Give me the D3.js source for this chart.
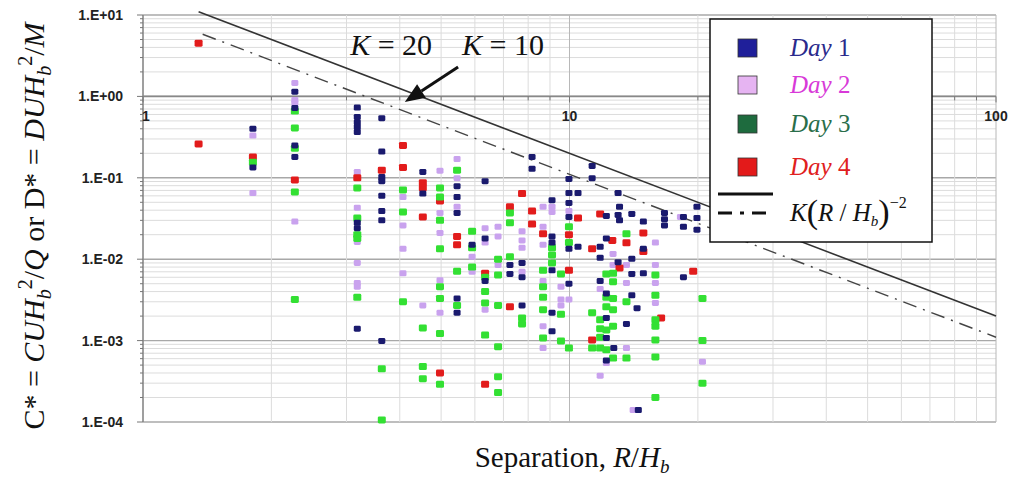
<!DOCTYPE html>
<html><head><meta charset="utf-8">
<script src="https://cdn.jsdelivr.net/npm/d3@7"></script>
<style>
html,body{margin:0;padding:0;background:#fff;}
svg{display:block;}
</style></head>
<body>
<svg id="c" width="1009" height="491"></svg>
<script>
// ---------- DATA ----------
const day1 = [[1.81,0.40],[1.81,0.134],
[2.27,1.14],[2.27,0.72],[2.27,0.25],[2.27,0.18],
[3.18,0.73],[3.18,0.56],[3.18,0.48],[3.18,0.42],[3.18,0.365],[3.18,0.028],[3.18,0.024],[3.18,0.0014],
[3.63,0.54],[3.63,0.21],[3.63,0.102],[3.63,0.091],[3.63,0.060],[3.63,0.039],[3.63,0.030],[3.63,0.00099],
[4.53,0.118],[4.53,0.064],
[5.45,0.079],[5.45,0.058],[5.45,0.037],[5.45,0.0033],[5.45,0.0022],
[5.91,0.015],
[6.34,0.091],[6.34,0.018],[6.34,0.0054],
[7.25,0.0085],[7.25,0.0066],
[7.74,0.0090],[7.74,0.0060],[7.74,0.0027],
[8.17,0.18],[8.17,0.129],
[9.10,0.053],[9.10,0.019],[9.10,0.016],[9.10,0.0073],[9.10,0.0022],[9.10,0.0013],
[9.97,0.097],[9.97,0.065],[9.97,0.049],[9.97,0.033],[9.97,0.0134],[9.97,0.0050],
[10.47,0.065],[10.47,0.0142],
[11.3,0.14],[11.3,0.099],
[11.8,0.0142],[11.8,0.0104],[11.8,0.0054],
[12.2,0.034],[12.2,0.018],[12.2,0.0038],[12.2,0.0019],[12.2,0.00108],[12.2,0.00057],
[12.7,0.00081],
[13.0,0.065],[13.0,0.035],[13.0,0.0092],
[13.1,0.044],[13.1,0.030],
[13.6,0.0016],
[14.0,0.036],[14.0,0.0101],[14.0,0.0066],[14.0,0.0036],
[14.4,0.0025],[14.5,0.00014],
[14.9,0.029],[14.9,0.0134],[14.9,0.0067],
[16.7,0.037],[16.7,0.031],[16.7,0.026],
[18.5,0.033],[18.5,0.025],[18.5,0.0060],
[19.9,0.044],[19.9,0.032],[19.9,0.023]];

const day2 = [[1.81,0.33],[1.81,0.065],
[2.27,1.46],[2.27,0.90],[2.27,0.83],[2.27,0.029],
[3.18,0.118],[3.18,0.043],[3.18,0.0163],[3.18,0.0090],[3.18,0.0051],[3.18,0.0046],
[4.07,0.058],[4.07,0.026],[4.07,0.0134],[4.07,0.0067],
[4.53,0.0027],
[4.97,0.122],[4.97,0.037],[4.97,0.021],[4.97,0.0055],[4.97,0.0022],
[5.45,0.17],[5.45,0.099],[5.45,0.044],
[5.91,0.0107],[5.91,0.0070],
[6.34,0.024],[6.34,0.016],[6.34,0.0024],
[6.80,0.025],[6.80,0.019],[6.80,0.0085],
[7.74,0.022],[7.74,0.017],[7.74,0.0138],[7.74,0.0070],
[8.67,0.044],[8.67,0.025],[8.67,0.015],[8.67,0.0054],[8.67,0.0015],[8.67,0.00081],
[9.10,0.044],[9.10,0.038],
[9.55,0.0046],[9.55,0.0032],[9.55,0.0027],
[9.97,0.039],[9.97,0.0032],
[11.8,0.0043],[11.8,0.00037],
[12.2,0.00053],
[12.65,0.0116],[12.65,0.0085],
[13.6,0.0085],[13.6,0.0051],[13.6,0.00081],
[14.1,0.00014],
[15.9,0.016],[15.9,0.0085],[15.9,0.0051],[15.9,0.0029],
[18.2,0.033],
[20.5,0.00055]];

const day3 = [[1.81,0.155],
[2.27,0.66],[2.27,0.41],[2.27,0.23],[2.27,0.067],[2.27,0.0032],
[3.18,0.075],[3.18,0.032],[3.18,0.020],[3.18,0.018],[3.18,0.0034],
[3.63,0.00045],[3.63,0.000106],
[4.07,0.071],[4.07,0.038],[4.07,0.0030],
[4.53,0.00143],[4.53,0.00048],[4.53,0.00034],
[4.97,0.075],[4.97,0.058],[4.97,0.030],[4.97,0.0134],[4.97,0.0046],[4.97,0.0033],[4.97,0.00122],[4.97,0.00029],
[5.45,0.124],[5.45,0.0071],[5.45,0.0027],
[5.91,0.022],[5.91,0.0138],[5.91,0.0080],
[6.34,0.0060],[6.34,0.0040],[6.34,0.0029],[6.34,0.00117],
[6.80,0.010],[6.80,0.0064],[6.80,0.0027],[6.80,0.00084],[6.80,0.00036],[6.80,0.00023],
[7.25,0.037],[7.25,0.028],[7.25,0.0107],
[7.74,0.0019],[7.74,0.0016],
[8.67,0.0073],[8.67,0.0046],[8.67,0.0034],[8.67,0.0024],[8.67,0.00108],
[9.10,0.0138],[9.10,0.0113],[9.10,0.0090],
[9.55,0.0066],[9.55,0.0021],[9.55,0.00099],
[9.97,0.025],[9.97,0.016],[9.97,0.00081],
[11.3,0.0022],[11.3,0.00081],
[11.8,0.0018],[11.8,0.0014],[11.8,0.0011],[11.8,0.00081],
[12.2,0.0066],[12.2,0.0034],[12.2,0.0026],[12.2,0.00135],[12.2,0.00077],
[12.65,0.0067],[12.65,0.0053],[12.65,0.0033],[12.65,0.0024],[12.65,0.0015],[12.65,0.00061],
[13.6,0.0205],[13.6,0.0030],[13.6,0.00061],
[15.9,0.0064],[15.9,0.0036],[15.9,0.0018],[15.9,0.0015],[15.9,0.00102],[15.9,0.00063],[15.9,0.0002],
[20.5,0.0033],[20.5,0.001],[20.5,0.0003]];

const day4 = [[1.35,4.5],[1.35,0.26],
[1.81,0.18],
[2.27,0.094],
[3.18,0.10],
[3.63,0.124],
[4.07,0.25],[4.07,0.134],
[4.53,0.087],[4.53,0.075],[4.53,0.033],
[4.97,0.052],[4.97,0.0004],
[5.45,0.019],[5.45,0.015],
[6.34,0.0067],[6.34,0.00029],
[7.25,0.044],[7.25,0.0026],
[7.74,0.064],
[8.17,0.039],[8.17,0.027],
[8.67,0.0205],
[9.97,0.020],[9.97,0.0073],
[10.47,0.032],
[11.3,0.0134],[11.3,0.00102],
[11.8,0.036],
[12.6,0.017],
[13.1,0.0078],
[13.6,0.0159],
[14.9,0.021],[14.9,0.0124],
[16.4,0.0019],
[19.5,0.0071]];

// K(R/Hb)^-2 lines, endpoints
const lineK20 = [[1.35,11.0],[100,0.002]];
const lineK10 = [[1.38,5.8],[100,0.0011]];

const yTickVals = [1e-4,1e-3,1e-2,1e-1,1,10];
const yTickLabels = ["1.E-04","1.E-03","1.E-02","1.E-01","1.E+00","1.E+01"];
const xTickVals = [1,10,100];
const xTickLabels = ["1","10","100"];
const seriesNames = ["Day 1","Day 2","Day 3","Day 4"];

// ---------- DRAW ----------
const svg = d3.select("#c");
const xS = d3.scaleLog().domain([1,100]).range([143,996]);
const yS = d3.scaleLog().domain([1e-4,10]).range([422,15]);

const g = svg.append("g");
const xGrid = [], yGrid = [];
for (let d of [1,10]) for (let m=1;m<=9;m++) xGrid.push(d*m);
xGrid.push(100);
for (let d of [1e-4,1e-3,1e-2,1e-1,1]) for (let m=1;m<=9;m++) yGrid.push(d*m);
yGrid.push(10);
const isMajor = v => Math.abs(Math.log10(v) - Math.round(Math.log10(v))) < 1e-9;

g.selectAll(".hg").data(yGrid).enter().append("line")
  .attr("x1",xS(1)).attr("x2",xS(100))
  .attr("y1",d=>yS(d)).attr("y2",d=>yS(d))
  .attr("stroke",d=>isMajor(d)?"#a8a8a8":"#dcdcdc")
  .attr("stroke-width",d=>isMajor(d)?1.4:1);
g.selectAll(".vg").data(xGrid).enter().append("line")
  .attr("y1",yS(10)).attr("y2",yS(1e-4))
  .attr("x1",d=>xS(d)).attr("x2",d=>xS(d))
  .attr("stroke",d=>isMajor(d)?"#b8b8b8":"#dcdcdc")
  .attr("stroke-width",1);

g.append("line").attr("x1",xS(1)).attr("x2",xS(1)).attr("y1",yS(10)).attr("y2",yS(1e-4))
  .attr("stroke","#777").attr("stroke-width",1.2);
g.selectAll(".yt").data(yGrid).enter().append("line")
  .attr("x1",d=>xS(1)-(isMajor(d)?6:3)).attr("x2",xS(1))
  .attr("y1",d=>yS(d)).attr("y2",d=>yS(d))
  .attr("stroke","#777").attr("stroke-width",1);
g.append("line").attr("x1",xS(1)).attr("x2",xS(100)).attr("y1",yS(1)).attr("y2",yS(1))
  .attr("stroke","#888").attr("stroke-width",1.6);
g.selectAll(".xt").data(xGrid).enter().append("line")
  .attr("x1",d=>xS(d)).attr("x2",d=>xS(d))
  .attr("y1",yS(1)).attr("y2",d=>yS(1)+(isMajor(d)?6:4))
  .attr("stroke","#777").attr("stroke-width",1);

g.selectAll(".yl").data(yTickVals).enter().append("text")
  .attr("x",123).attr("y",d=>yS(d)+5)
  .attr("text-anchor","end")
  .attr("font-family","Liberation Sans, Arial, sans-serif")
  .attr("font-weight","bold").attr("font-size",14).attr("fill","#222")
  .text((d,i)=>yTickLabels[i]);
g.selectAll(".xl").data(xTickVals).enter().append("text")
  .attr("x",d=>xS(d)+(d===1?3:0)).attr("y",yS(1)+25)
  .attr("text-anchor","middle")
  .attr("font-family","Liberation Sans, Arial, sans-serif")
  .attr("font-weight","bold").attr("font-size",14).attr("fill","#222")
  .text((d,i)=>xTickLabels[i]);

const ln = d3.line().x(d=>xS(d[0])).y(d=>yS(d[1]));
g.append("path").attr("d",ln(lineK20)).attr("fill","none").attr("stroke","#333").attr("stroke-width",1.6);
g.append("path").attr("d",ln(lineK10)).attr("fill","none").attr("stroke","#444").attr("stroke-width",1.4)
  .attr("stroke-dasharray","14,7,2,7");

const styles = [
  {data:day2, fill:"#c9a2ee", w:7, h:6},
  {data:day4, fill:"#e21c1c", w:8, h:7},
  {data:day3, fill:"#33e033", w:8, h:7},
  {data:day1, fill:"#1a1a6e", w:7, h:6}
];
styles.forEach(s=>{
  g.append("g").selectAll("rect").data(s.data).enter().append("rect")
    .attr("x",d=>xS(d[0])-s.w/2).attr("y",d=>yS(d[1])-s.h/2)
    .attr("width",s.w).attr("height",s.h).attr("rx",1.4)
    .attr("fill",s.fill);
});

const serif = "Liberation Serif, Times New Roman, serif";
function kText(R, C, val){
  const t = g.append("text").attr("x",xS(R)).attr("y",yS(C))
    .attr("font-family",serif).attr("font-size",30).attr("fill","#111");
  t.append("tspan").attr("font-style","italic").text("K");
  t.append("tspan").text(" = "+val);
}
kText(3.06,3.2,"20");
kText(5.6,3.2,"10");

const arrowTail=[5.48,2.30], arrowHead=[4.11,0.853];
const ax1=xS(arrowTail[0]), ay1=yS(arrowTail[1]), ax2=xS(arrowHead[0]), ay2=yS(arrowHead[1]);
const ang=Math.atan2(ay2-ay1,ax2-ax1);
const hl=20, hw=8;
const bx=ax2-hl*Math.cos(ang), by=ay2-hl*Math.sin(ang);
g.append("line").attr("x1",ax1).attr("y1",ay1).attr("x2",bx).attr("y2",by)
  .attr("stroke","#111").attr("stroke-width",3);
g.append("path").attr("d",`M${ax2},${ay2} L${bx+hw*Math.sin(ang)},${by-hw*Math.cos(ang)} L${bx-hw*Math.sin(ang)},${by+hw*Math.cos(ang)} Z`)
  .attr("fill","#111");

const lg = svg.append("g");
lg.append("rect").attr("x",710).attr("y",19).attr("width",222).attr("height",223)
  .attr("fill","#fff").attr("stroke","#111").attr("stroke-width",1.5);
const legFill = ["#1f1f9a","#e6b4f2","#1e6b3e","#e31a1a"];
const legText = ["#2a2a8c","#d83ad8","#2a6e4a","#e02020"];
const legY = [48,85,124,167];
seriesNames.forEach((n,i)=>{
  lg.append("rect").attr("x",738).attr("y",legY[i]-9).attr("width",19).attr("height",18)
    .attr("fill",legFill[i]).attr("stroke","#333").attr("stroke-width",0.8);
  const t = lg.append("text").attr("x",790).attr("y",legY[i]+8)
    .attr("font-family",serif).attr("font-size",25).attr("fill",legText[i]);
  const parts = n.split(" ");
  t.append("tspan").attr("font-style","italic").text(parts[0]);
  t.append("tspan").text(" "+parts[1]);
});
lg.append("line").attr("x1",718).attr("x2",773).attr("y1",194).attr("y2",194).attr("stroke","#111").attr("stroke-width",3);
lg.append("line").attr("x1",718).attr("x2",773).attr("y1",213).attr("y2",213).attr("stroke","#111").attr("stroke-width",3)
  .attr("stroke-dasharray","14,8,4,8");
const kt = lg.append("text").attr("x",790).attr("y",221).attr("font-family",serif).attr("font-size",25).attr("fill","#111");
kt.append("tspan").attr("font-style","italic").text("K");
kt.append("tspan").attr("font-size",34).attr("dy",2).text("(");
kt.append("tspan").attr("font-style","italic").attr("dy",-2).text("R");
kt.append("tspan").text(" / ");
kt.append("tspan").attr("font-style","italic").text("H");
kt.append("tspan").attr("font-style","italic").attr("font-size",15).attr("dy",5).text("b");
kt.append("tspan").attr("font-size",34).attr("dy",-3).text(")");
kt.append("tspan").attr("font-size",16).attr("dy",-15).text("−2");

const xt = svg.append("text").attr("x",572).attr("y",467).attr("text-anchor","middle")
  .attr("font-family",serif).attr("font-size",29).attr("fill","#111");
xt.append("tspan").text("Separation, ");
xt.append("tspan").attr("font-style","italic").text("R");
xt.append("tspan").text("/");
xt.append("tspan").attr("font-style","italic").text("H");
xt.append("tspan").attr("font-style","italic").attr("font-size",19).attr("dy",6).text("b");

const yt = svg.append("text").attr("transform","translate(44,226) rotate(-90)").attr("text-anchor","middle")
  .attr("font-family",serif).attr("font-size",30).attr("fill","#111");
function ytPart(txt, opts){
  const s = yt.append("tspan").text(txt);
  if (opts && opts.it) s.attr("font-style","italic");
  if (opts && opts.fs) s.attr("font-size",opts.fs);
  if (opts && opts.dy) s.attr("dy",opts.dy);
  return s;
}
ytPart("C* = ");
ytPart("CUH",{it:1});
ytPart("b",{it:1,fs:20,dy:7});
ytPart("2",{fs:20,dy:-19});
ytPart("/",{dy:12});
ytPart("Q",{it:1});
ytPart(" or D* = ");
ytPart("DUH",{it:1});
ytPart("b",{it:1,fs:20,dy:7});
ytPart("2",{fs:20,dy:-19});
ytPart("/",{dy:12});
ytPart("M",{it:1});
</script>
</body></html>
